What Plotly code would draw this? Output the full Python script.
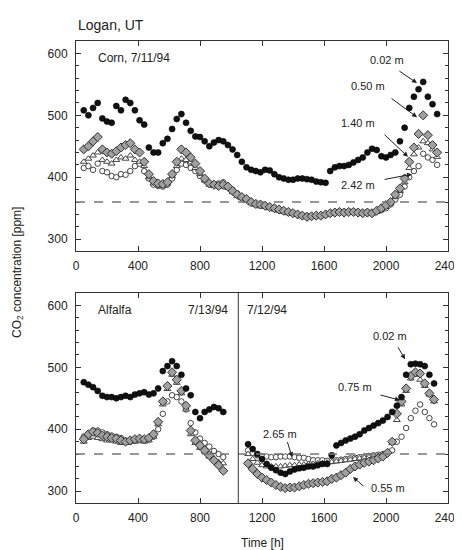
import plotly.graph_objects as go

FONT = "Liberation Sans, Arial, sans-serif"

# ---------------- Corn, 7/11/94 (top panel) ----------------
corn_t = [50, 80, 110, 140, 170, 200, 230, 260, 290, 320, 350, 380, 410, 440, 470, 500,
          530, 560, 590, 620, 650, 680, 710, 740, 770, 800, 830, 860, 890, 920, 950, 980,
          1010, 1040, 1070, 1100, 1130, 1160, 1190, 1220, 1250, 1280, 1310, 1340, 1370, 1400,
          1430, 1460, 1490, 1520, 1550, 1580, 1610, 1640, 1670, 1700, 1730, 1760, 1790, 1820,
          1850, 1880, 1910, 1940, 1970, 2000, 2030, 2060, 2090, 2120, 2150, 2180, 2210, 2240,
          2270, 2300, 2330]
corn_002 = [508, 500, 512, 520, 495, 490, 488, 515, 508, 525, 520, 508, 492, 485, 448, 440,
            440, 455, 462, 478, 494, 502, 488, 475, 466, 465, 458, 450, 456, 460, 458, 452,
            445, 436, 425, 416, 412, 410, 408, 412, 411, 405, 400, 398, 396, 396,
            398, 398, 397, 396, 393, 392, 391, 410, 416, 418, 418, 420, 424, 428,
            432, 440, 446, 444, 434, 432, 436, 440, 458, 480, 512, 530, 542, 554,
            530, 518, 502]
corn_050 = [445, 450, 458, 465, 445, 440, 438, 442, 448, 452, 455, 445, 440, 425, 405, 394,
            390, 389, 392, 405, 425, 445, 440, 432, 422, 410, 398, 390, 388, 386, 388, 385,
            378, 372, 368, 365, 360, 357, 356, 354, 352, 350, 348, 346, 344, 342,
            340, 338, 336, 337, 338, 338, 340, 342, 343, 344, 343, 344, 344, 343,
            342, 343, 342, 346, 350, 355, 360, 372, 382, 398, 425, 448, 470, 500,
            468, 452, 440]
corn_140 = [425, 430, 435, 440, 428, 425, 422, 428, 432, 430, 435, 428, 425, 418, 400, 390,
            387, 386, 390, 402, 418, 430, 428, 424, 415, 405, 395, 388, 386, 385, 386, 383,
            376, 370, 366, 362, 358, 355, 353, 352, 350, 348, 346, 344, 342, 341,
            339, 337, 336, 336, 337, 338, 339, 341, 342, 343, 342, 343, 343, 342,
            341, 342, 341, 344, 348, 352, 358, 368, 378, 392, 415, 437, 448, 458,
            455, 445, 433]
corn_242 = [415, 418, 412, 422, 410, 408, 402, 400, 405, 404, 410, 418, 422, 410, 398, 388,
            386, 385, 388, 398, 412, 422, 420, 415, 410, 402, 395, 390, 388, 390, 392, 386,
            380, 374, 368, 364, 360, 358, 355, 354, 352, 350, 348, 345, 343, 342,
            340, 338, 338, 337, 338, 339, 340, 342, 344, 345, 344, 345, 345, 344,
            343, 344, 343, 345, 347, 350, 356, 364, 372, 385, 400, 410, 418, 438,
            432, 428, 420]

# ---------------- Alfalfa, 7/13/94 (bottom panel, left part) ----------------
alf1_t = [50, 80, 110, 140, 170, 200, 230, 260, 290, 320, 350, 380, 410, 440, 470, 500,
          530, 560, 590, 620, 650, 680, 710, 740, 770, 800, 830, 860, 890, 920, 950]
alf1_002 = [476, 472, 468, 462, 454, 452, 452, 450, 452, 454, 452, 456, 458, 460, 456, 458,
            466, 494, 502, 510, 502, 488, 466, 455, 428, 418, 428, 432, 436, 434, 428]
alf1_055 = [384, 392, 396, 394, 390, 388, 386, 385, 382, 380, 382, 384, 385, 384, 386, 392,
            412, 445, 470, 492, 480, 462, 438, 398, 382, 374, 366, 358, 350, 342, 333]
alf1_075 = [380, 386, 388, 386, 384, 382, 382, 380, 378, 378, 380, 380, 382, 380, 382, 388,
            408, 440, 465, 488, 475, 458, 432, 392, 378, 370, 364, 356, 352, 347, 345]
alf1_265 = [388, 392, 398, 398, 395, 392, 390, 388, 386, 382, 380, 382, 384, 382, 384, 388,
            400, 425, 445, 455, 452, 445, 432, 410, 395, 385, 378, 372, 365, 360, 355]

# ---------------- Alfalfa, 7/12/94 (bottom panel, right part) ----------------
alf2_t = [1110, 1140, 1170, 1200, 1230, 1260, 1290, 1320, 1350, 1380, 1410, 1440, 1470, 1500,
          1530, 1560, 1590, 1620, 1650, 1680, 1710, 1740, 1770, 1800, 1830, 1860, 1890, 1920,
          1950, 1980, 2010, 2040, 2070, 2100, 2130, 2160, 2190, 2220, 2250, 2280, 2310]
alf2_002 = [376, 368, 360, 352, 344, 338, 334, 330, 328, 332, 335, 337, 338, 340,
            340, 342, 344, 344, 358, 374, 378, 382, 385, 388, 392, 398, 402, 406,
            410, 414, 420, 428, 438, 452, 488, 505, 506, 505, 502, 488, 474]
alf2_055 = [345, 336, 328, 322, 318, 314, 310, 307, 305, 306, 306, 308, 310, 312,
            313, 314, 315, 316, 320, 322, 326, 330, 336, 340, 343, 346, 348, 350,
            353, 356, 362, 380, 425, 445, 466, 486, 492, 490, 474, 458, 448]
alf2_075 = [360, 352, 346, 342, 340, 340, 340, 340, 341, 342, 342, 343, 343, 344,
            344, 345, 345, 346, 347, 348, 349, 350, 351, 352, 353, 354, 355, 356,
            357, 358, 364, 378, 415, 440, 462, 482, 488, 480, 470, 456, 445]
alf2_265 = [366, 362, 358, 356, 356, 355, 355, 356, 356, 356, 355, 354, 354, 352,
            350, 350, 350, 349, 349, 350, 351, 352, 353, 354, 355, 356, 357, 358,
            359, 360, 362, 366, 380, 388, 402, 418, 430, 440, 428, 418, 408]

ambient = 360
x_ticks = [0, 400, 800, 1200, 1600, 2000, 2400]
y_ticks = [300, 400, 500, 600]

# marker styles
S_BLACK = dict(symbol="circle", size=6, color="#111111", line=dict(width=0.6, color="#000000"))
S_DIAM = dict(symbol="diamond", size=7, color="#a0a0a0", line=dict(width=1, color="#333333"))
S_TRI = dict(symbol="triangle-up", size=6, color="white", line=dict(width=1, color="#444444"))
S_CIRC = dict(symbol="circle", size=5.5, color="white", line=dict(width=1, color="#444444"))

fig = go.Figure()


def add(t, v, style, xa, ya):
    fig.add_trace(go.Scatter(x=t, y=v, mode="markers", marker=style,
                             xaxis=xa, yaxis=ya, showlegend=False, hoverinfo="skip"))


# top panel: draw open ones first, black last
add(corn_t, corn_242, S_CIRC, "x", "y")
add(corn_t, corn_140, S_TRI, "x", "y")
add(corn_t, corn_050, S_DIAM, "x", "y")
add(corn_t, corn_002, S_BLACK, "x", "y")

# bottom panel
for tt, a, b, c, d in [(alf1_t, alf1_265, alf1_075, alf1_055, alf1_002),
                       (alf2_t, alf2_265, alf2_075, alf2_055, alf2_002)]:
    add(tt, a, S_CIRC, "x2", "y2")
    add(tt, b, S_TRI, "x2", "y2")
    add(tt, c, S_DIAM, "x2", "y2")
    add(tt, d, S_BLACK, "x2", "y2")

axcol = "#333333"
tickfont = dict(family=FONT, size=12, color="#222222")
xcommon = dict(range=[0, 2400], tickvals=x_ticks, ticks="inside", ticklen=5, tickcolor=axcol,
               showline=True, linecolor=axcol, linewidth=1, mirror="allticks",
               showgrid=False, zeroline=False, tickfont=tickfont, ticklabelstandoff=4,
               automargin=False)
ycommon = dict(range=[281, 620], tickvals=y_ticks, ticks="inside", ticklen=5, tickcolor=axcol,
               showline=True, linecolor=axcol, linewidth=1, mirror="allticks",
               showgrid=False, zeroline=False, tickfont=tickfont, ticklabelstandoff=5,
               automargin=False,
               minor=dict(ticks="inside", ticklen=3, dtick=20, tick0=0, tickcolor=axcol))

top_dom = [0.5455, 1.0]
bot_dom = [0.0, 0.4545]

# the page body adds an 8 px offset, so the figure is 8 px smaller with 8 px less left/top margin
fig.update_layout(
    width=454, height=542,
    margin=dict(l=68, r=14, t=33, b=47),
    plot_bgcolor="white", paper_bgcolor="white",
    font=dict(family=FONT, color="#222222"),
    xaxis=dict(**xcommon, anchor="y"),
    yaxis=dict(**ycommon, domain=top_dom, anchor="x"),
    xaxis2=dict(**xcommon, anchor="y2"),
    yaxis2=dict(**ycommon, domain=bot_dom, anchor="x2"),
)

# ambient dashed lines
for xr, yr in [("x", "y"), ("x2", "y2")]:
    fig.add_shape(type="line", xref=f"{xr} domain", yref=yr, x0=0, x1=1, y0=ambient, y1=ambient,
                  line=dict(color="#777777", width=1.5, dash="dash"))

# vertical separator between dates in the alfalfa panel
fig.add_shape(type="line", xref="x2", yref="y2 domain", x0=1047, x1=1047, y0=0, y1=1,
              line=dict(color="#333333", width=1))


def label(text, x, y, xr, yr, anchor="center", size=11):
    fig.add_annotation(text=text, x=x, y=y, xref=xr, yref=yr, showarrow=False,
                       xanchor=anchor, yanchor="middle",
                       font=dict(family=FONT, size=size, color="#222222"))


def arrow(x, y, ax, ay, xr, yr):
    fig.add_annotation(text="", x=x, y=y, ax=ax, ay=ay, xref=xr, yref=yr,
                       axref=xr, ayref=yr, showarrow=True, arrowhead=2, arrowsize=1,
                       arrowwidth=1, arrowcolor="#222222")


# top panel labels
label("Corn, 7/11/94", 129, 592, "x", "y", "left", 12)
label("0.02 m", 2006, 589, "x", "y")
arrow(2200, 552, 2077, 573, "x", "y")
label("0.50 m", 1884, 548, "x", "y")
arrow(2200, 497, 2026, 529, "x", "y")
label("1.40 m", 1819, 487, "x", "y")
arrow(2142, 433, 1981, 471, "x", "y")
label("2.42 m", 1819, 387, "x", "y")
arrow(2168, 405, 1981, 396, "x", "y")

# bottom panel labels
label("Alfalfa", 129, 592, "x2", "y2", "left", 12)
label("7/13/94", 994, 592, "x2", "y2", "right", 12)
label("7/12/94", 1090, 592, "x2", "y2", "left", 12)
label("0.02 m", 2026, 550, "x2", "y2")
arrow(2123, 513, 2071, 535, "x2", "y2")
label("0.75 m", 1800, 468, "x2", "y2")
arrow(2090, 447, 1955, 456, "x2", "y2")
label("2.65 m", 1316, 392, "x2", "y2")
arrow(1394, 355, 1361, 382, "x2", "y2")
label("0.55 m", 2013, 305, "x2", "y2")
arrow(1787, 323, 1865, 306, "x2", "y2")

# titles
fig.add_annotation(text="Logan, UT", x=0, y=1.0346, xref="paper", yref="paper",
                   xanchor="left", yanchor="middle", showarrow=False,
                   font=dict(family=FONT, size=14, color="#222222"))
fig.add_annotation(text="CO<sub>2</sub> concentration [ppm]", x=-0.156, y=0.5,
                   xref="paper", yref="paper", textangle=-90, showarrow=False,
                   xanchor="center", yanchor="middle",
                   font=dict(family=FONT, size=12, color="#222222"))
fig.add_annotation(text="Time [h]", x=0.5, y=-0.087, xref="paper", yref="paper",
                   showarrow=False, xanchor="center", yanchor="middle",
                   font=dict(family=FONT, size=12, color="#222222"))

fig.write_html("out.html")
